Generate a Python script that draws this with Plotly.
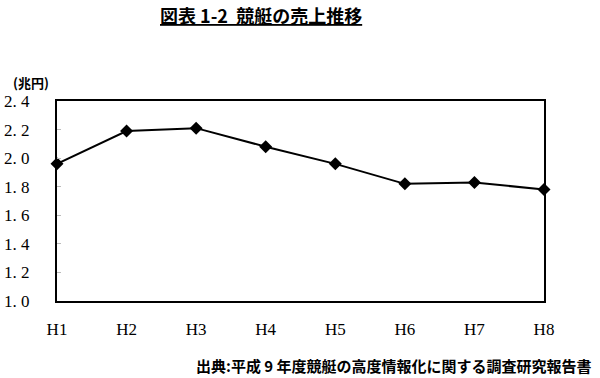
import plotly.graph_objects as go

categories = ["H1", "H2", "H3", "H4", "H5", "H6", "H7", "H8"]
sales = [1.96, 2.19, 2.21, 2.08, 1.96, 1.82, 1.83, 1.78]
y_ticks = [1.0, 1.2, 1.4, 1.6, 1.8, 2.0, 2.2, 2.4]
y_tick_labels = ["1. 0", "1. 2", "1. 4", "1. 6", "1. 8", "2. 0", "2. 2", "2. 4"]

title_text = "図表 1-2  競艇の売上推移"
unit_text = "(兆円)"
source_text = "出典:平成 9 年度競艇の高度情報化に関する調査研究報告書"

jp = "Noto Sans CJK JP"
serif = "Liberation Serif"

L, R, T, B = 57, 56, 101, 77
W, H = 600, 378

fig = go.Figure()
fig.add_trace(go.Scatter(
    x=list(range(len(categories))), y=sales, mode="lines+markers",
    line=dict(color="black", width=2),
    marker=dict(symbol="diamond", size=10, color="black"),
    cliponaxis=False, showlegend=False, hoverinfo="skip",
))

fig.update_layout(
    width=W, height=H,
    margin=dict(l=L, r=R, t=T, b=B, autoexpand=False),
    paper_bgcolor="white", plot_bgcolor="white",
    xaxis=dict(
        range=[0, len(categories) - 1],
        tickvals=list(range(len(categories))), ticktext=categories,
        showgrid=False, zeroline=False,
        showline=True, linecolor="black", linewidth=2, mirror=True,
        ticks="", tickfont=dict(family=serif, size=17, color="black"),
        ticklabelstandoff=12, automargin=False,
    ),
    yaxis=dict(
        range=[1.0, 2.4], tickvals=y_ticks, ticktext=y_tick_labels,
        showgrid=False, zeroline=False,
        showline=True, linecolor="black", linewidth=2, mirror=True,
        ticks="inside", ticklen=4, tickcolor="#bbbbbb",
        tickfont=dict(family=serif, size=17, color="black"),
        ticklabelstandoff=22, automargin=False,
    ),
)

pw = W - L - R
ph = H - T - B
def px_to_paper(xp, yp):
    return (xp - L) / pw, (H - B - yp) / ph

ann = []
ax, ay = px_to_paper(261, 15)
ann.append(dict(text="<b><u>" + title_text + "</u></b>", x=ax, y=ay,
                xanchor="center", yanchor="middle",
                font=dict(family=jp, size=18, color="black")))
ax, ay = px_to_paper(31, 82)
ann.append(dict(text="<b>" + unit_text + "</b>", x=ax, y=ay,
                xanchor="center", yanchor="middle",
                font=dict(family=jp, size=13, color="black")))
ax, ay = px_to_paper(594, 365)
ann.append(dict(text="<b>" + source_text + "</b>", x=ax, y=ay,
                xanchor="right", yanchor="middle",
                font=dict(family=jp, size=15, color="black")))
for a in ann:
    a.update(xref="paper", yref="paper", showarrow=False)
fig.update_layout(annotations=ann)

fig.write_html("out.html", config={"displayModeBar": False},
               post_script="document.body.style.margin='0';document.body.style.overflow='hidden';")
